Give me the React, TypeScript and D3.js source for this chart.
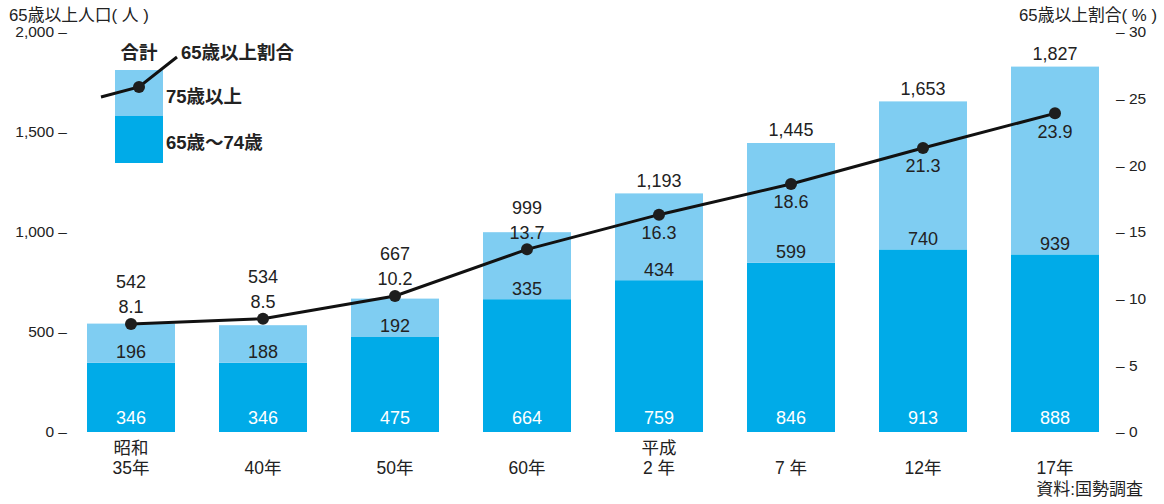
import * as d3 from "d3";

const categories = ["昭和\n35年", "40年", "50年", "60年", "平成\n2 年", "7 年", "12年", "17年"];
const age65to74 = [346, 346, 475, 664, 759, 846, 913, 888];
const age75plus = [196, 188, 192, 335, 434, 599, 740, 939];
const totals = [542, 534, 667, 999, 1193, 1445, 1653, 1827];
const ratio = [8.1, 8.5, 10.2, 13.7, 16.3, 18.6, 21.3, 23.9];
const leftTicks = [0, 500, 1000, 1500, 2000];
const rightTicks = [0, 5, 10, 15, 20, 25, 30];

const W = 1164;
const H = 504;
const DARK = "#00abe8";
const LIGHT = "#7fcdf2";
const INK = "#222";
const FONT = "'Liberation Sans', Arial, 'Noto Sans CJK JP', sans-serif";

export default function App() {
  const x = d3.scaleBand<string>().domain(categories).range([65, 1121]).paddingInner(1 / 3).paddingOuter(1 / 6);
  const y = d3.scaleLinear().domain([0, 2000]).range([432, 32]);
  const y2 = d3.scaleLinear().domain([0, 30]).range([432, 32]);
  const bw = x.bandwidth();
  const cx = (c: string) => (x(c) ?? 0) + bw / 2;

  const line = d3.line<number>()
    .x((_, i) => cx(categories[i]))
    .y((d) => y2(d));

  const fmt = d3.format(",");

  return (
    <svg width={W} height={H} style={{ position: "absolute", left: 0, top: 0, background: "#fff" }} fontFamily={FONT}>
      {/* axis titles */}
      <text x={9} y={15} dy="0.35em" fontSize={16.8} fill={INK}>65歳以上人口( 人 )</text>
      <text x={1157} y={15} dy="0.35em" fontSize={16.8} fill={INK} textAnchor="end">65歳以上割合( % )</text>

      {leftTicks.map((t) => (
        <text key={"l" + t} x={67} y={y(t)} dy="0.35em" fontSize={15.5} fill={INK} textAnchor="end">
          {fmt(t)} –
        </text>
      ))}
      {rightTicks.map((t) => (
        <text key={"r" + t} x={1116} y={y2(t)} dy="0.35em" fontSize={15.5} fill={INK}>
          – {t}
        </text>
      ))}

      {/* bars */}
      {categories.map((c, i) => {
        const x0 = x(c) ?? 0;
        const base = age65to74[i];
        return (
          <g key={c}>
            <rect x={x0} y={y(base)} width={bw} height={y(0) - y(base)} fill={DARK} />
            <rect x={x0} y={y(base + age75plus[i])} width={bw} height={y(base) - y(base + age75plus[i])} fill={LIGHT} />
            <text x={cx(c)} y={y(0) - 14} dy="0.35em" fontSize={18} fill="#fff" textAnchor="middle">{base}</text>
            <text x={cx(c)} y={y(base) - 11} dy="0.35em" fontSize={18} fill={INK} textAnchor="middle">{age75plus[i]}</text>
          </g>
        );
      })}

      {/* ratio line */}
      <path d={line(ratio) ?? ""} fill="none" stroke="#111" strokeWidth={3} />
      {ratio.map((r, i) => (
        <circle key={"d" + i} cx={cx(categories[i])} cy={y2(r)} r={6} fill="#1e1e1e" />
      ))}

      {/* ratio + total labels */}
      {categories.map((c, i) => {
        const above = i < 4;
        const ry = above ? y2(ratio[i]) - 17 : y2(ratio[i]) + 18;
        const ty = above ? Math.min(y(totals[i]) - 13, ry - 25) : y(totals[i]) - 13;
        return (
          <g key={"lab" + c}>
            <text x={cx(c)} y={ry} dy="0.35em" fontSize={18} fill={INK} textAnchor="middle">{ratio[i]}</text>
            <text x={cx(c)} y={ty} dy="0.35em" fontSize={18} fill={INK} textAnchor="middle">{fmt(totals[i])}</text>
          </g>
        );
      })}

      {/* category labels */}
      {categories.map((c) => {
        const parts = c.split("\n");
        return parts.map((p, j) => (
          <text key={c + j} x={cx(c)} y={468 - (parts.length - 1 - j) * 20} dy="0.35em" fontSize={17.5} fill={INK} textAnchor="middle">
            {p}
          </text>
        ));
      })}

      {/* legend */}
      <g fontWeight="bold" fontSize={18.5} fill={INK}>
        <rect x={115} y={70} width={48} height={46} fill={LIGHT} />
        <rect x={115} y={116} width={48} height={47} fill={DARK} />
        <text x={139} y={53} dy="0.35em" textAnchor="middle">合計</text>
        <polyline points="101,97 139,87 177,57" fill="none" stroke="#111" strokeWidth={3} />
        <circle cx={139} cy={87} r={6} fill="#1e1e1e" />
        <text x={181} y={53} dy="0.35em">65歳以上割合</text>
        <text x={166} y={97} dy="0.35em">75歳以上</text>
        <text x={166} y={143} dy="0.35em">65歳～74歳</text>
      </g>

      <text x={1143} y={489} dy="0.35em" fontSize={17} fill={INK} textAnchor="end">資料:国勢調査</text>
    </svg>
  );
}
